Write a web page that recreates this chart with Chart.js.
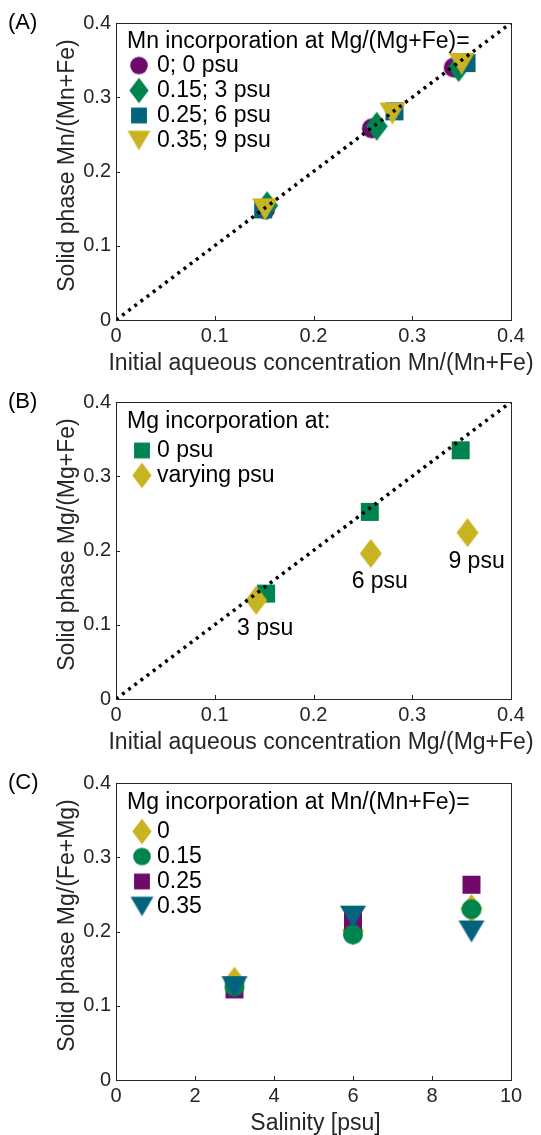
<!DOCTYPE html>
<html>
<head>
<meta charset="utf-8">
<script src="https://cdn.jsdelivr.net/npm/chart.js@4.4.1/dist/chart.umd.min.js"></script>
<style>
  html, body { margin: 0; padding: 0; background: #fff; }
  body { width: 541px; height: 1135px; position: relative; overflow: hidden; }
  .panel { position: absolute; left: 0; width: 541px; height: 375px; }
  .panel canvas { display: block; }
</style>
</head>
<body>
<div class="panel" style="top:0px"><canvas id="chartA" width="541" height="375"></canvas></div>
<div class="panel" style="top:379px"><canvas id="chartB" width="541" height="375"></canvas></div>
<div class="panel" style="top:760px"><canvas id="chartC" width="541" height="375"></canvas></div>
<script>
// ---- Data ----

// 1:1 reference line (panels A and B)
const oneToOne = [0, 0.4];

// (A) Mn incorporation at Mg/(Mg+Fe)= ...
const mnLabels = ['0; 0 psu', '0.15; 3 psu', '0.25; 6 psu', '0.35; 9 psu'];
const mnX_0 = [0.151, 0.259, 0.342];
const mnY_0 = [0.149, 0.258, 0.340];
const mnX_15 = [0.153, 0.264, 0.347];
const mnY_15 = [0.154, 0.261, 0.340];
const mnX_25 = [0.149, 0.282, 0.355];
const mnY_25 = [0.149, 0.281, 0.346];
const mnX_35 = [0.151, 0.280, 0.350];
const mnY_35 = [0.149, 0.278, 0.345];

// (B) Mg incorporation
const mgLabels = ['0 psu', 'varying psu'];
const mgX_0psu = [0.152, 0.257, 0.349];
const mgY_0psu = [0.142, 0.252, 0.335];
const mgX_var = [0.142, 0.258, 0.356];
const mgY_var = [0.133, 0.196, 0.224];
const mgVarNotes = ['3 psu', '6 psu', '9 psu'];

// (C) Mg incorporation vs salinity
const salLabels = ['0', '0.15', '0.25', '0.35'];
const salinity = [3, 6, 9];
const salY_0 = [0.133, 0.201, 0.231];
const salY_15 = [0.126, 0.196, 0.230];
const salY_25 = [0.122, 0.214, 0.263];
const salY_35 = [0.125, 0.220, 0.200];

// ---- Styling ----
const FONT = '"Liberation Sans", Arial, Helvetica, sans-serif';
const AXIS_COLOR = '#262626';
const colors = {
  purple: '#6f0a6b',
  green: '#00844f',
  teal: '#03637d',
  yellow: '#c8b420'
};

Chart.defaults.font.family = FONT;
Chart.defaults.color = AXIS_COLOR;

// marker sprites (MATLAB-like, diamond taller than wide)
function makeMarker(shape, color, w, h) {
  const c = document.createElement('canvas');
  c.width = Math.ceil(w) + 2;
  c.height = Math.ceil(h) + 2;
  const g = c.getContext('2d');
  const cx = c.width / 2, cy = c.height / 2;
  g.fillStyle = color;
  g.beginPath();
  if (shape === 'circle') {
    g.arc(cx, cy, w / 2, 0, Math.PI * 2);
  } else if (shape === 'square') {
    g.rect(cx - w / 2, cy - h / 2, w, h);
  } else if (shape === 'diamond') {
    g.moveTo(cx, cy - h / 2);
    g.lineTo(cx + w / 2, cy);
    g.lineTo(cx, cy + h / 2);
    g.lineTo(cx - w / 2, cy);
  } else if (shape === 'triangleDown') {
    g.moveTo(cx - w / 2, cy - h / 2);
    g.lineTo(cx + w / 2, cy - h / 2);
    g.lineTo(cx, cy + h / 2);
  }
  g.closePath();
  g.fill();
  return c;
}

const markerSize = {
  circle: [20, 20],
  square: [18, 18],
  diamond: [22, 29],
  triangleDown: [26, 22]
};
const legendScale = 0.88;

function dataMarker(shape, color) {
  const [w, h] = markerSize[shape];
  return makeMarker(shape, color, w, h);
}
function legendMarker(shape, color) {
  const [w, h] = markerSize[shape];
  return makeMarker(shape, color, w * legendScale, h * legendScale);
}

function toPoints(xs, ys) {
  return xs.map((x, i) => ({ x: x, y: ys[i] }));
}

function scatterSet(label, xs, ys, shape, color, order) {
  return {
    label: label,
    data: toPoints(xs, ys),
    pointStyle: dataMarker(shape, color),
    pointRadius: 10,
    pointHoverRadius: 10,
    backgroundColor: color,
    borderColor: color,
    order: order
  };
}

function refLine(order) {
  return {
    label: '1:1',
    data: toPoints(oneToOne, oneToOne),
    showLine: true,
    borderColor: '#000',
    borderWidth: 3.5,
    borderDash: [3, 4.7],
    borderCapStyle: 'butt',
    pointRadius: 0,
    pointHoverRadius: 0,
    order: order
  };
}

// box around the axes with short inward ticks
const frameTicks = {
  id: 'frameTicks',
  afterDraw(chart) {
    const { ctx, chartArea: a, scales } = chart;
    ctx.save();
    ctx.strokeStyle = AXIS_COLOR;
    ctx.lineWidth = 1;
    ctx.strokeRect(Math.round(a.left) + 0.5, Math.round(a.top) + 0.5,
      Math.round(a.right - a.left), Math.round(a.bottom - a.top));
    ctx.beginPath();
    scales.x.ticks.forEach(t => {
      const px = Math.round(scales.x.getPixelForValue(t.value)) + 0.5;
      ctx.moveTo(px, a.bottom);
      ctx.lineTo(px, a.bottom - 4);
    });
    scales.y.ticks.forEach(t => {
      const py = Math.round(scales.y.getPixelForValue(t.value)) + 0.5;
      ctx.moveTo(a.left, py);
      ctx.lineTo(a.left + 4, py);
    });
    ctx.stroke();
    ctx.restore();
  }
};

// axis titles (drawn here so the long x title is not squeezed to the axis width)
const axisTitles = {
  id: 'axisTitles',
  afterDraw(chart, args, opts) {
    const { ctx, chartArea: a } = chart;
    ctx.save();
    ctx.fillStyle = AXIS_COLOR;
    ctx.font = '23px ' + FONT;
    ctx.textAlign = 'center';
    ctx.textBaseline = 'middle';
    ctx.fillText(opts.x, (a.left + a.right) / 2 + opts.xShift, a.bottom + 44);
    ctx.translate(68, (a.top + a.bottom) / 2 - 6);
    ctx.rotate(-Math.PI / 2);
    ctx.fillText(opts.y, 0, 0);
    ctx.restore();
  }
};

// legend drawn inside the axes, top-left
const insetLegend = {
  id: 'insetLegend',
  afterDraw(chart, args, opts) {
    const { ctx, chartArea: a } = chart;
    ctx.save();
    ctx.fillStyle = '#000';
    ctx.font = '23px ' + FONT;
    ctx.textAlign = 'left';
    ctx.textBaseline = 'middle';
    ctx.fillText(opts.title, a.left + 11, a.top + opts.titleY);
    opts.items.forEach((it, i) => {
      const y = a.top + opts.rowY + i * 25;
      const m = it.marker;
      ctx.drawImage(m, a.left + opts.markerX - m.width / 2, y - m.height / 2);
      ctx.fillText(it.label, a.left + 41, y);
    });
    ctx.restore();
  }
};

// panel tag "(A)" and point annotations
const panelText = {
  id: 'panelText',
  afterDraw(chart, args, opts) {
    const { ctx, chartArea: a } = chart;
    ctx.save();
    ctx.fillStyle = '#000';
    ctx.textBaseline = 'alphabetic';
    ctx.font = '22px ' + FONT;
    ctx.textAlign = 'left';
    ctx.fillText(opts.tag, 8, a.top + 6);
    if (opts.notes) {
      ctx.font = '23px ' + FONT;
      ctx.textAlign = 'center';
      const meta = chart.getDatasetMeta(opts.notes.dataset);
      meta.data.forEach((pt, i) => {
        ctx.fillText(opts.notes.labels[i], pt.x + 9, pt.y + 35);
      });
    }
    ctx.restore();
  }
};

function makeScales(xMax, xStep) {
  return {
    x: {
      type: 'linear',
      position: 'bottom',
      min: 0,
      max: xMax,
      grid: { display: false, drawTicks: false },
      border: { display: false },
      ticks: { stepSize: xStep, color: AXIS_COLOR, font: { size: 20 }, padding: 4, maxRotation: 0 },
      afterFit: s => { s.height = 55; }
    },
    y: {
      type: 'linear',
      position: 'left',
      min: 0,
      max: 0.4,
      grid: { display: false, drawTicks: false },
      border: { display: false },
      ticks: { stepSize: 0.1, color: AXIS_COLOR, font: { size: 20 }, padding: 5 },
      afterFit: s => { s.width = 116; }
    }
  };
}

function baseOptions(scales, titles, legend, text) {
  return {
    responsive: false,
    animation: false,
    events: [],
    layout: { padding: { top: 23, right: 30, bottom: 0, left: 0 } },
    scales: scales,
    plugins: {
      legend: { display: false },
      tooltip: { enabled: false },
      axisTitles: titles,
      insetLegend: legend,
      panelText: text
    }
  };
}

const panelPlugins = [frameTicks, axisTitles, insetLegend, panelText];

// (A)
new Chart(document.getElementById('chartA'), {
  type: 'scatter',
  data: {
    datasets: [
      refLine(0),
      scatterSet(mnLabels[3], mnX_35, mnY_35, 'triangleDown', colors.yellow, 1),
      scatterSet(mnLabels[2], mnX_25, mnY_25, 'square', colors.teal, 2),
      scatterSet(mnLabels[1], mnX_15, mnY_15, 'diamond', colors.green, 3),
      scatterSet(mnLabels[0], mnX_0, mnY_0, 'circle', colors.purple, 4)
    ]
  },
  options: baseOptions(
    makeScales(0.4, 0.1),
    { x: 'Initial aqueous concentration Mn/(Mn+Fe)', y: 'Solid phase Mn/(Mn+Fe)', xShift: 7.5 },
    {
      title: 'Mn incorporation at Mg/(Mg+Fe)=',
      titleY: 19, rowY: 42.5, markerX: 23,
      items: [
        { label: mnLabels[0], marker: legendMarker('circle', colors.purple) },
        { label: mnLabels[1], marker: legendMarker('diamond', colors.green) },
        { label: mnLabels[2], marker: legendMarker('square', colors.teal) },
        { label: mnLabels[3], marker: legendMarker('triangleDown', colors.yellow) }
      ]
    },
    { tag: '(A)' }
  ),
  plugins: panelPlugins
});

// (B)
new Chart(document.getElementById('chartB'), {
  type: 'scatter',
  data: {
    datasets: [
      refLine(0),
      scatterSet(mgLabels[1], mgX_var, mgY_var, 'diamond', colors.yellow, 1),
      scatterSet(mgLabels[0], mgX_0psu, mgY_0psu, 'square', colors.green, 2)
    ]
  },
  options: baseOptions(
    makeScales(0.4, 0.1),
    { x: 'Initial aqueous concentration Mg/(Mg+Fe)', y: 'Solid phase Mg/(Mg+Fe)', xShift: 7.5 },
    {
      title: 'Mg incorporation at:',
      titleY: 19.5, rowY: 48.5, markerX: 26,
      items: [
        { label: mgLabels[0], marker: legendMarker('square', colors.green) },
        { label: mgLabels[1], marker: legendMarker('diamond', colors.yellow) }
      ]
    },
    { tag: '(B)', notes: { dataset: 1, labels: mgVarNotes } }
  ),
  plugins: panelPlugins
});

// (C)
new Chart(document.getElementById('chartC'), {
  type: 'scatter',
  data: {
    datasets: [
      scatterSet(salLabels[3], salinity, salY_35, 'triangleDown', colors.teal, 0),
      scatterSet(salLabels[1], salinity, salY_15, 'circle', colors.green, 1),
      scatterSet(salLabels[2], salinity, salY_25, 'square', colors.purple, 2),
      scatterSet(salLabels[0], salinity, salY_0, 'diamond', colors.yellow, 3)
    ]
  },
  options: baseOptions(
    makeScales(10, 2),
    { x: 'Salinity [psu]', y: 'Solid phase Mg/(Fe+Mg)', xShift: 2 },
    {
      title: 'Mg incorporation at Mn/(Mn+Fe)=',
      titleY: 19.5, rowY: 48.5, markerX: 26,
      items: [
        { label: salLabels[0], marker: legendMarker('diamond', colors.yellow) },
        { label: salLabels[1], marker: legendMarker('circle', colors.green) },
        { label: salLabels[2], marker: legendMarker('square', colors.purple) },
        { label: salLabels[3], marker: legendMarker('triangleDown', colors.teal) }
      ]
    },
    { tag: '(C)' }
  ),
  plugins: panelPlugins
});
</script>
</body>
</html>
